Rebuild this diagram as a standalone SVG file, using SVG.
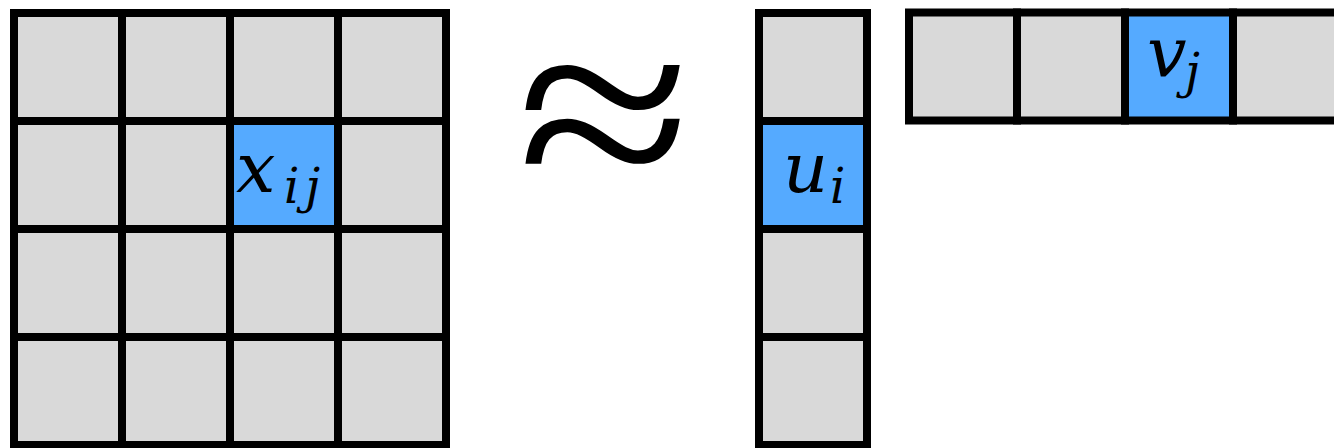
<svg xmlns="http://www.w3.org/2000/svg" width="1334" height="448" viewBox="0 0 1334 448">
<style>
.c{fill:#d9d9d9;stroke:#000;stroke-width:8}
.b{fill:#55aaff;stroke:#000;stroke-width:8}
</style>
<rect width="1334" height="448" fill="#fff"/>
<g id="matrixX">
<rect class="c" x="14" y="13" width="108" height="108"/><rect class="c" x="122" y="13" width="108" height="108"/><rect class="c" x="230" y="13" width="108" height="108"/><rect class="c" x="338" y="13" width="108" height="108"/>
<rect class="c" x="14" y="121" width="108" height="108"/><rect class="c" x="122" y="121" width="108" height="108"/><rect class="c" x="338" y="121" width="108" height="108"/>
<rect class="c" x="14" y="229" width="108" height="108"/><rect class="c" x="122" y="229" width="108" height="108"/><rect class="c" x="230" y="229" width="108" height="108"/><rect class="c" x="338" y="229" width="108" height="108"/>
<rect class="c" x="14" y="337" width="108" height="108"/><rect class="c" x="122" y="337" width="108" height="108"/><rect class="c" x="230" y="337" width="108" height="108"/><rect class="c" x="338" y="337" width="108" height="108"/>
<g id="xij"><rect class="b" x="230" y="121" width="108" height="108"/>
<text font-family="DejaVu Serif" font-style="italic" x="236" y="192" font-size="70">x</text><text font-family="DejaVu Serif" font-style="italic" x="284" y="203" font-size="48" letter-spacing="6">ij</text></g>
</g>
<g id="approx" transform="translate(604,115) scale(1.99,1.68)"><text x="0" y="52.6" font-family="Liberation Serif" font-size="160" text-anchor="middle">≈</text></g>
<g id="vectorU">
<rect class="c" x="759" y="13" width="108" height="108"/>
<g id="ui"><rect class="b" x="759" y="121" width="108" height="108"/>
<text font-family="DejaVu Serif" font-style="italic" x="783" y="192" font-size="70">u</text><text font-family="DejaVu Serif" font-style="italic" x="830" y="203" font-size="48">i</text></g>
<rect class="c" x="759" y="229" width="108" height="108"/>
<rect class="c" x="759" y="337" width="108" height="108"/>
</g>
<g id="vectorV">
<rect class="c" x="909" y="12.5" width="108" height="108"/><rect class="c" x="1017" y="12.5" width="108" height="108"/>
<g id="vj"><rect class="b" x="1125" y="12.5" width="108" height="108"/>
<text font-family="DejaVu Serif" font-style="italic" x="1147" y="76" font-size="70">v</text><text font-family="DejaVu Serif" font-style="italic" x="1185" y="88" font-size="48">j</text></g>
<rect class="c" x="1233" y="12.5" width="108" height="108"/>
</g>
<g id="connectors"/>
</svg>
